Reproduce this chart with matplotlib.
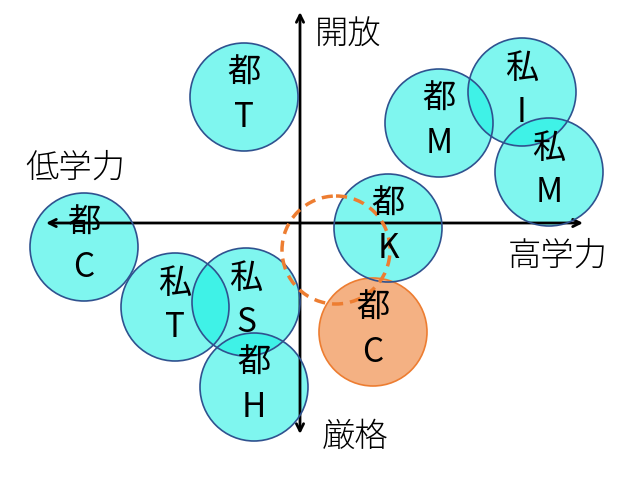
import matplotlib
matplotlib.use("Agg")
import matplotlib.pyplot as plt
from matplotlib.patches import Circle

plt.rcParams['font.family'] = ['Noto Sans CJK JP', 'DejaVu Sans']

# schools: top label, bottom label, x, y (pixel-like positions on the map)
tops = ["都", "都", "私", "私", "都", "都", "私", "私", "都"]
bottoms = ["T", "M", "I", "M", "C", "K", "T", "S", "H"]
xs = [244, 439, 522, 549, 84, 388, 175, 246, 254]
ys = [97, 123, 92, 172, 247, 228, 307, 302, 387]

# highlighted school
hl_top, hl_bottom = "都", "C"
hl_x, hl_y = 373, 332

# target (dashed) position
target_x, target_y = 336, 250

RADIUS = 54

fig = plt.figure(figsize=(6.38, 4.86), dpi=100)
ax = fig.add_axes([0, 0, 1, 1])
ax.set_xlim(0, 638)
ax.set_ylim(486, 0)
ax.axis("off")

# axes arrows
ax.annotate("", xy=(300, 12), xytext=(300, 434),
            arrowprops=dict(arrowstyle="<->", color="black", lw=2,
                            mutation_scale=13, shrinkA=0, shrinkB=0))
ax.annotate("", xy=(583, 223), xytext=(46, 223),
            arrowprops=dict(arrowstyle="<->", color="black", lw=2,
                            mutation_scale=13, shrinkA=0, shrinkB=0))

ax.text(315, 36, "開放", fontsize=24, ha="left", va="center", fontweight="light")
ax.text(322, 438, "厳格", fontsize=24, ha="left", va="center", fontweight="light")
ax.text(75, 168, "低学力", fontsize=24, ha="center", va="center", fontweight="light")
ax.text(558, 256, "高学力", fontsize=24, ha="center", va="center", fontweight="light")

for t, b, x, y in zip(tops, bottoms, xs, ys):
    ax.add_patch(Circle((x, y), RADIUS, facecolor="#00EFE0", alpha=0.5,
                        edgecolor="none", zorder=2))
    ax.add_patch(Circle((x, y), RADIUS, facecolor="none",
                        edgecolor="#2F528F", lw=1.2, zorder=3))

ax.add_patch(Circle((hl_x, hl_y), RADIUS, facecolor="#F4B183",
                    edgecolor="#ED7D31", lw=1.2, zorder=2.5))
ax.add_patch(Circle((target_x, target_y), RADIUS, facecolor="none",
                    edgecolor="#ED7D31", lw=2.5, ls=(0, (3.2, 2)), zorder=4))

for t, b, x, y in zip(tops + [hl_top], bottoms + [hl_bottom],
                      xs + [hl_x], ys + [hl_y]):
    ax.text(x, y - 24, t, fontsize=24, ha="center", va="center", zorder=5)
    ax.text(x, y + 20, b, fontsize=24, ha="center", va="center", zorder=5)

fig.savefig("out.png", dpi=100)
